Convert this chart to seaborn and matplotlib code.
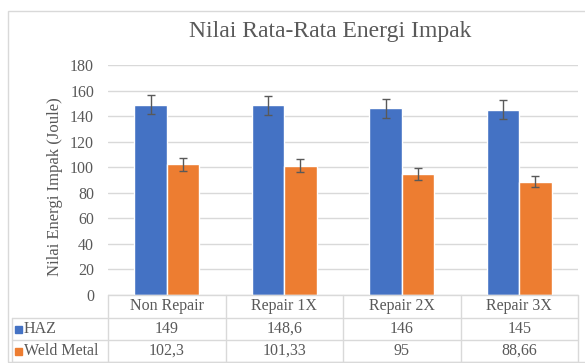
import matplotlib
matplotlib.use("Agg")
import matplotlib.pyplot as plt
from matplotlib.lines import Line2D
from matplotlib.patches import Rectangle
import pandas as pd
import seaborn as sns

# data
categories = ["Non Repair", "Repair 1X", "Repair 2X", "Repair 3X"]
series = ["HAZ", "Weld Metal"]
haz = [149, 148.6, 146, 145]
weld = [102.3, 101.33, 95, 88.66]
haz_err = [7.45, 7.43, 7.3, 7.25]
weld_err = [5.1, 5.07, 4.75, 4.43]
haz_labels = ["149", "148,6", "146", "145"]
weld_labels = ["102,3", "101,33", "95", "88,66"]
yticks = [0, 20, 40, 60, 80, 100, 120, 140, 160, 180]

colors = ["#4472C4", "#ED7D31"]
text_col = "#595959"
grid_col = "#D9D9D9"

W, H = 585, 363


def fx(x):
    return x / W


def fy(y):
    return 1 - y / H


sns.set_style("white")
plt.rcParams["font.family"] = ["Liberation Serif", "DejaVu Serif"]

df = pd.DataFrame({
    "kategori": categories * 2,
    "seri": [series[0]] * 4 + [series[1]] * 4,
    "energi": haz + weld,
})

fig = plt.figure(figsize=(W / 100, H / 100), dpi=100)
left, right, top, bottom = 108, 578, 65, 295
ax = fig.add_axes([fx(left), fy(bottom), fx(right - left), (bottom - top) / H])

sns.barplot(data=df, x="kategori", y="energi", hue="seri", palette=colors,
            width=0.55, saturation=1, legend=False, ax=ax, zorder=2)

# error bars on the bar centres
for cont, errs in zip(ax.containers, [haz_err, weld_err]):
    xs = [b.get_x() + b.get_width() / 2 for b in cont]
    ys = [b.get_height() for b in cont]
    ax.errorbar(xs, ys, yerr=errs, fmt="none", ecolor="#595959",
                elinewidth=1, capsize=3, capthick=1, zorder=3)

ax.set_xlim(-0.5, 3.5)
ax.set_ylim(0, 180)
ax.set_yticks(yticks)
ax.set_yticklabels([str(t) for t in yticks], fontsize=11.5, color=text_col)
ax.tick_params(axis="y", length=0, pad=10)
ax.set_xticks([])
ax.set_xlabel("")
ax.set_ylabel("Nilai Energi Impak (Joule)", fontsize=12, color=text_col)
ax.yaxis.set_label_coords((63 - left) / (right - left), 0.47)
ax.grid(axis="y", color=grid_col, linewidth=1, zorder=0)
for s in ax.spines.values():
    s.set_visible(False)

fig.text(fx(330), fy(32), "Nilai Rata-Rata Energi Impak", ha="center",
         va="center", fontsize=17, color=text_col)

# outer chart border
fig.add_artist(Rectangle((fx(8), fy(362)), fx(600), (362 - 11) / H,
                         transform=fig.transFigure, fill=False,
                         edgecolor="#D9D9D9", linewidth=1))

# data table under the plot
row_y = [295, 318, 340, 362]
tab_left = 12
col_w = (right - left) / 4


def hline(x0, x1, y):
    fig.add_artist(Line2D([fx(x0), fx(x1)], [fy(y), fy(y)],
                          transform=fig.transFigure, color=grid_col, lw=1))


def vline(x, y0, y1):
    fig.add_artist(Line2D([fx(x), fx(x)], [fy(y0), fy(y1)],
                          transform=fig.transFigure, color=grid_col, lw=1))


hline(left, right, row_y[0])
for y in row_y[1:]:
    hline(tab_left, right, y)
vline(tab_left, row_y[1], row_y[3])
for i in range(5):
    vline(left + i * col_w, row_y[0], row_y[3])

for i, cat in enumerate(categories):
    cx = left + (i + 0.5) * col_w
    fig.text(fx(cx), fy((row_y[0] + row_y[1]) / 2), cat, ha="center",
             va="center", fontsize=11.5, color=text_col)
    fig.text(fx(cx), fy((row_y[1] + row_y[2]) / 2), haz_labels[i], ha="center",
             va="center", fontsize=11.5, color=text_col)
    fig.text(fx(cx), fy((row_y[2] + row_y[3]) / 2), weld_labels[i], ha="center",
             va="center", fontsize=11.5, color=text_col)

for r, (name, c) in enumerate(zip(series, colors)):
    cy = (row_y[r + 1] + row_y[r + 2]) / 2
    fig.add_artist(Rectangle((fx(15), fy(cy + 3.5)), fx(7), 7 / H,
                             transform=fig.transFigure, color=c))
    fig.text(fx(24), fy(cy), name, ha="left", va="center", fontsize=11.5,
             color=text_col)

fig.savefig("out.png", dpi=100)
